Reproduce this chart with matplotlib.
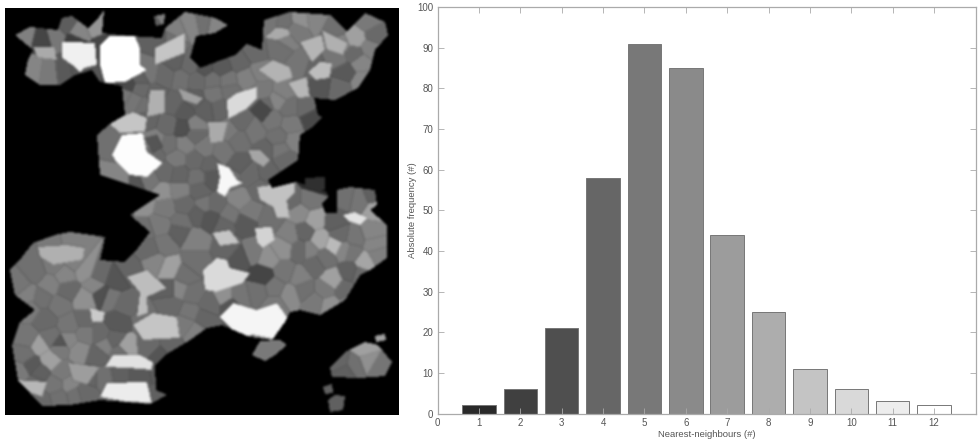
import numpy as np
import matplotlib
matplotlib.use('Agg')
import matplotlib.pyplot as plt
from matplotlib.path import Path

plt.rcParams['font.family'] = ['Liberation Sans', 'DejaVu Sans']

# histogram
neighbours = [1, 2, 3, 4, 5, 6, 7, 8, 9, 10, 11, 12]
frequency = [2, 6, 21, 58, 91, 85, 44, 25, 11, 6, 3, 2]
bar_grey = [0.16, 0.25, 0.31, 0.40, 0.47, 0.54, 0.61, 0.68, 0.77, 0.85, 0.93, 1.0]

# tissue outlines, picture pixels
tissue = [
    [(15, 35), (30, 27), (58, 30), (62, 18), (72, 16), (88, 28), (97, 20), (104, 10), (102, 33), (130, 36),
     (162, 38), (165, 28), (185, 12), (215, 18), (228, 25), (215, 33), (196, 36), (190, 58), (200, 68),
     (235, 55), (247, 44), (262, 50), (264, 20), (290, 12), (330, 15), (347, 32), (365, 13), (385, 22),
     (388, 35), (375, 50), (370, 70), (358, 88), (335, 100), (314, 98), (318, 115), (322, 117), (314, 126),
     (300, 135), (298, 160), (280, 172), (268, 180), (272, 188), (296, 182), (327, 192), (328, 198),
     (322, 203), (325, 213), (337, 213), (337, 190), (350, 187), (375, 190), (377, 205), (370, 210),
     (387, 225), (387, 258), (370, 270), (360, 275), (345, 300), (320, 315), (300, 310),
     (290, 312), (285, 322), (272, 340), (250, 337), (222, 325), (207, 328), (190, 340), (165, 355),
     (155, 365), (156, 390), (167, 395), (150, 404), (100, 400), (70, 405), (42, 406), (18, 380), (12, 345),
     (20, 322), (35, 310), (15, 295), (10, 270), (18, 262), (33, 243), (55, 235), (70, 232), (105, 237),
     (100, 260), (125, 262), (135, 252), (150, 232), (130, 215), (160, 195), (110, 178), (100, 175),
     (97, 135), (110, 124), (125, 115), (122, 86), (100, 82), (92, 70), (75, 75), (60, 85), (40, 85),
     (25, 75), (28, 60), (33, 50)],
    [(330, 368), (345, 352), (365, 342), (378, 345), (392, 362), (385, 376), (360, 378), (332, 377)],
    [(375, 336), (385, 334), (386, 340), (376, 342)],
    [(323, 387), (332, 384), (333, 393), (325, 394)],
    [(328, 400), (335, 395), (345, 396), (343, 410), (330, 412)],
    [(252, 355), (260, 341), (280, 340), (287, 345), (275, 355), (265, 361)],
    [(154, 16), (165, 14), (164, 24), (156, 26)],
    [(305, 178), (325, 177), (325, 190), (305, 190)],
]

# bright and otherwise distinct cells: outline, then grey level
big_cells = [
    ([(62, 42), (70, 42), (95, 43), (97, 65), (85, 68), (80, 72), (72, 65), (62, 58)], 225),
    ([(100, 45), (110, 36), (135, 36), (140, 48), (140, 65), (147, 70), (125, 82), (105, 83), (100, 65)], 243),
    ([(112, 155), (122, 135), (143, 133), (147, 152), (163, 163), (147, 177), (130, 175), (117, 163)], 238),
    ([(217, 163), (230, 168), (237, 180), (243, 183), (230, 188), (225, 197), (217, 192), (220, 177)], 232),
    ([(227, 100), (237, 93), (257, 87), (257, 98), (245, 110), (228, 119)], 205),
    ([(220, 317), (233, 303), (257, 310), (277, 303), (288, 318), (278, 340), (253, 335), (240, 338)], 230),
    ([(203, 270), (217, 258), (227, 260), (230, 268), (250, 273), (243, 283), (217, 292), (205, 290)], 205),
    ([(100, 397), (107, 383), (147, 382), (152, 403), (127, 402)], 222),
    ([(105, 367), (113, 355), (140, 355), (153, 362), (152, 370), (128, 368)], 212),
    ([(343, 215), (355, 212), (368, 218), (360, 225), (350, 222)], 212),
    ([(133, 325), (153, 313), (177, 317), (180, 338), (143, 340)], 185),
    ([(127, 277), (147, 270), (167, 288), (147, 297), (148, 313), (137, 317), (140, 293)], 178),
    ([(38, 247), (67, 245), (85, 248), (83, 260), (53, 265), (40, 257)], 165),
    ([(255, 228), (272, 227), (275, 240), (263, 248), (257, 243)], 198),
    ([(212, 233), (230, 230), (240, 243), (220, 246)], 185),
    ([(90, 308), (105, 312), (103, 322), (92, 322)], 190),
    ([(68, 363), (100, 367), (87, 385), (73, 380)], 148),
    ([(15, 380), (47, 382), (42, 397), (23, 390)], 172),
    ([(155, 48), (185, 33), (185, 53), (155, 65)], 185),
    ([(33, 47), (55, 47), (57, 60), (38, 58)], 160),
    ([(108, 123), (133, 112), (147, 118), (145, 132), (120, 133)], 185),
    ([(150, 90), (165, 90), (165, 113), (147, 117)], 165),
    ([(178, 88), (203, 98), (197, 105), (183, 100)], 150),
    ([(208, 122), (228, 122), (223, 142), (210, 143)], 160),
    ([(258, 70), (273, 60), (290, 67), (293, 78), (277, 83)], 168),
    ([(288, 83), (307, 77), (310, 97), (298, 98)], 172),
    ([(308, 72), (320, 62), (332, 63), (330, 78), (315, 80)], 178),
    ([(300, 42), (322, 35), (325, 50), (312, 62)], 170),
    ([(322, 30), (348, 43), (343, 55), (327, 50)], 165),
    ([(257, 187), (295, 182), (295, 193), (287, 200), (290, 218), (277, 218), (273, 207), (260, 200)], 182),
    ([(248, 150), (260, 150), (270, 160), (263, 167), (252, 160)], 155),
    ([(250, 110), (260, 100), (272, 110), (262, 123)], 68),
    ([(145, 138), (157, 135), (163, 147), (153, 153)], 80),
]

# ordinary cells: centre x, centre y, grey level, read row by row
small_cells = [
    (25, 36, 120), (42, 40, 65), (56, 36, 112), (66, 25, 88), (78, 33, 125), (75, 40, 58), (97, 25, 140),
    (105, 45, 65), (160, 42, 90), (172, 42, 105), (190, 25, 125), (205, 22, 105), (215, 24, 125), (178, 30, 120),
    (270, 20, 110), (285, 22, 105), (300, 20, 135), (316, 18, 125), (335, 28, 105), (368, 22, 115), (375, 35, 100),
    (283, 35, 160), (296, 30, 115), (356, 38, 150), (370, 48, 120), (280, 48, 105), (255, 52, 100),
    (355, 55, 100), (338, 58, 110), (360, 62, 125), (240, 62, 95), (222, 68, 85), (205, 68, 80), (190, 66, 100),
    (175, 62, 90), (150, 72, 110), (165, 75, 100), (182, 78, 105), (197, 80, 100), (213, 80, 105), (228, 80, 110),
    (247, 78, 120), (262, 92, 115), (283, 92, 120), (345, 72, 85), (362, 82, 125), (340, 88, 100), (320, 85, 80),
    (128, 85, 70), (140, 78, 90), (135, 100, 110), (148, 120, 95), (173, 105, 95), (185, 112, 85), (205, 110, 90),
    (220, 108, 95), (168, 125, 100), (183, 128, 75), (195, 125, 120), (240, 122, 100), (255, 132, 110),
    (272, 120, 110), (290, 108, 105), (305, 108, 100), (292, 125, 115), (310, 118, 70), (278, 100, 125),
    (278, 138, 105), (295, 140, 120), (240, 140, 105), (222, 152, 110), (205, 148, 115), (185, 145, 120),
    (170, 145, 105), (177, 158, 115), (195, 160, 100), (210, 165, 95), (165, 172, 100), (180, 175, 95),
    (197, 178, 105), (212, 178, 85), (250, 175, 100), (268, 172, 95), (240, 165, 90), (285, 160, 100),
    (122, 185, 125), (135, 186, 80), (150, 180, 110), (162, 192, 135), (180, 190, 120), (200, 190, 95),
    (215, 205, 100), (240, 200, 125), (250, 212, 115), (120, 200, 85), (108, 203, 100), (122, 203, 90),
    (145, 203, 135), (165, 208, 115), (185, 205, 100), (198, 215, 90), (182, 222, 105), (160, 225, 115),
    (145, 230, 105), (210, 218, 80), (230, 215, 110), (245, 222, 85), (292, 200, 100), (310, 200, 110),
    (300, 213, 130), (315, 220, 150), (335, 222, 90), (372, 232, 125), (355, 238, 110), (340, 235, 100),
    (305, 232, 95), (320, 240, 155), (290, 235, 120), (283, 248, 135), (300, 250, 100), (325, 258, 105),
    (345, 250, 125), (365, 262, 155), (378, 255, 120), (375, 245, 125), (335, 245, 175), (268, 258, 135),
    (253, 253, 115), (240, 258, 80), (228, 248, 95), (195, 240, 120), (195, 262, 105), (180, 232, 90),
    (165, 245, 110), (150, 250, 100), (155, 262, 125), (170, 268, 150), (185, 275, 105), (178, 290, 125),
    (193, 295, 105), (172, 305, 100), (190, 312, 110), (205, 318, 95), (195, 332, 120), (262, 275, 65),
    (285, 272, 110), (300, 277, 120), (315, 265, 100), (332, 280, 150), (350, 272, 90), (305, 290, 105),
    (325, 290, 115), (345, 290, 100), (330, 305, 135), (315, 302, 115), (350, 302, 115), (290, 295, 130),
    (275, 288, 110), (258, 292, 105), (240, 296, 110), (225, 297, 135), (230, 305, 80), (170, 290, 90),
    (65, 275, 125), (85, 270, 135), (35, 272, 105), (50, 285, 120), (68, 290, 100), (28, 295, 120), (42, 298, 105),
    (100, 275, 100), (115, 280, 80), (110, 298, 110), (125, 305, 100), (102, 295, 75), (85, 300, 135),
    (60, 305, 110), (45, 320, 100), (70, 325, 110), (85, 335, 115), (50, 338, 105), (100, 335, 100),
    (118, 322, 85), (115, 340, 95), (105, 345, 120), (120, 352, 105), (28, 338, 110), (40, 345, 150),
    (25, 355, 105), (60, 348, 115), (60, 345, 80), (80, 350, 130), (97, 355, 95), (125, 347, 150), (150, 345, 100),
    (170, 345, 95), (160, 355, 80), (32, 365, 85), (50, 360, 150), (62, 372, 115), (40, 372, 90), (20, 372, 115),
    (55, 385, 110), (60, 398, 105), (85, 392, 100), (105, 378, 105), (120, 375, 90), (140, 376, 85), (160, 372, 85),
    (158, 397, 90), (75, 395, 105), (42, 402, 100), (340, 362, 95), (355, 365, 105), (368, 360, 135), (365, 350, 150),
    (380, 367, 110), (345, 372, 90),
    # second pass, patches that came out too coarse
    (35, 70, 125), (48, 72, 115), (65, 70, 85), (77, 68, 80), (125, 95, 110), (140, 90, 100), (315, 183, 45),
    (345, 197, 105), (360, 200, 110), (372, 195, 90), (375, 210, 150), (155, 140, 120), (130, 145, 105),
    (260, 72, 120), (230, 92, 105), (195, 135, 100), (230, 130, 115), (265, 150, 95), (280, 150, 110),
    (232, 178, 105), (260, 190, 100), (205, 205, 110), (225, 225, 95), (270, 220, 105), (310, 250, 120),
    (352, 252, 110), (360, 275, 100), (275, 305, 115), (210, 305, 100), (185, 325, 115), (20, 285, 110),
    (55, 265, 115), (75, 262, 120), (30, 310, 115), (95, 285, 125), (130, 270, 95), (145, 320, 105),
    (85, 320, 100), (70, 340, 125), (35, 385, 100), (90, 378, 95), (70, 385, 125), (170, 330, 105),
    (285, 40, 120), (340, 45, 125), (315, 70, 95), (300, 65, 110), (265, 105, 100), (155, 95, 95),
    (145, 105, 105), (215, 95, 110), (195, 100, 90), (155, 155, 100), (135, 195, 115),
]

picture_x0, picture_y0, picture_w, picture_h = 5, 8, 394, 407
fig_w, fig_h = 980, 442


def build_picture():
    xx, yy = np.meshgrid(np.arange(picture_w) + picture_x0 + 0.5, np.arange(picture_h) + picture_y0 + 0.5)
    pts = np.column_stack([xx.ravel(), yy.ravel()])
    sx = np.array([c[0] for c in small_cells], dtype=float)
    sy = np.array([c[1] for c in small_cells], dtype=float)
    grey = np.array([c[2] for c in small_cells], dtype=float)
    d = (xx[..., None] - sx) ** 2 + (yy[..., None] - sy) ** 2
    label = d.argmin(axis=2)
    img = grey[label]
    for i, (outline, g) in enumerate(big_cells):
        inside = Path(outline).contains_points(pts).reshape(xx.shape)
        label[inside] = len(small_cells) + i
        img[inside] = g
    # thin darker line between cells
    edge = np.zeros(label.shape, dtype=bool)
    edge[:-1, :] |= label[:-1, :] != label[1:, :]
    edge[:, :-1] |= label[:, :-1] != label[:, 1:]
    img[edge] *= 0.86
    mask = np.zeros(label.shape, dtype=bool)
    for outline in tissue:
        mask |= Path(outline).contains_points(pts).reshape(xx.shape)
    img[~mask] = 0
    # the reference is soft, smear a little
    for _ in range(2):
        img = sum(np.roll(np.roll(img, a, 0), b, 1) for a in (-1, 0, 1) for b in (-1, 0, 1)) / 9
    return img


fig = plt.figure(figsize=(fig_w / 100, fig_h / 100), dpi=100)

ax_img = fig.add_axes([picture_x0 / fig_w, 1 - (picture_y0 + picture_h) / fig_h, picture_w / fig_w, picture_h / fig_h])
ax_img.imshow(build_picture(), cmap='gray', vmin=0, vmax=240, aspect='auto', interpolation='bilinear')
ax_img.axis('off')

ax = fig.add_axes([437.5 / fig_w, 1 - 413.5 / fig_h, 538 / fig_w, 406.5 / fig_h])
ax.bar(neighbours, frequency, width=0.81, color=[str(g) for g in bar_grey], edgecolor='#777777', linewidth=0.7)
ax.set_xlim(0, 13)
ax.set_ylim(0, 100)
ax.set_xticks(range(0, 13))
ax.set_yticks(range(0, 101, 10))
ax.tick_params(direction='in', top=True, right=True, length=4, width=0.6, color='#aaaaaa',
               labelsize=7, labelcolor='#555555', pad=3)
for s in ax.spines.values():
    s.set_color('#aaaaaa')
    s.set_linewidth(0.9)
ax.set_xlabel('Nearest-neighbours (#)', fontsize=6.8, color='#555555', labelpad=2)
ax.set_ylabel('Absolute frequency (#)', fontsize=6.8, color='#555555', labelpad=0)

fig.savefig('out.png', dpi=100)
